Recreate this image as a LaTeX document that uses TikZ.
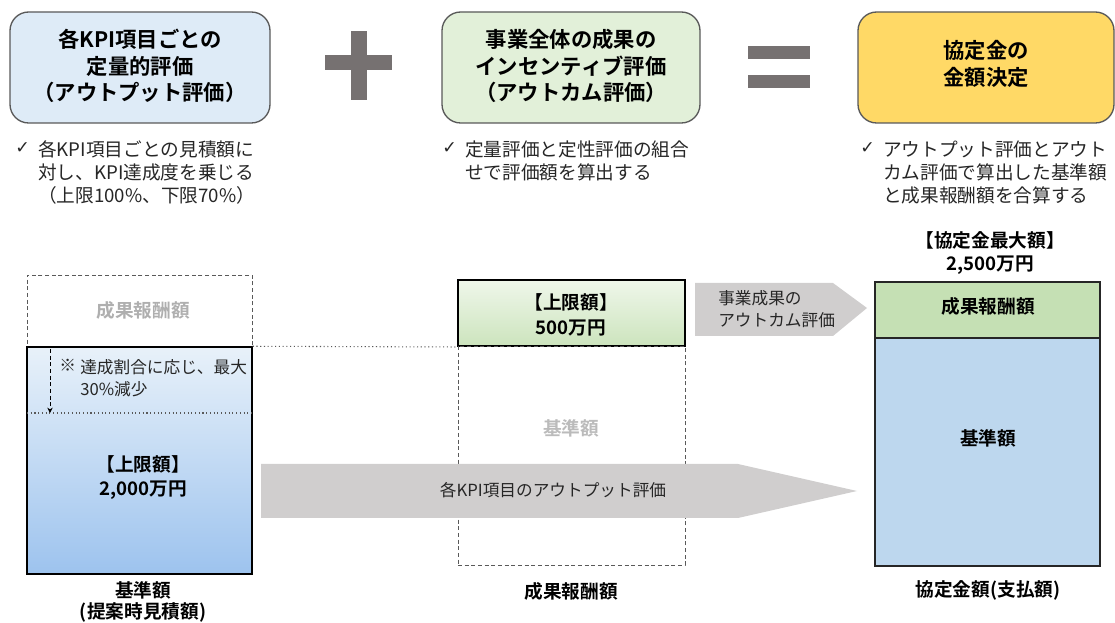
\documentclass[tikz,border=0pt]{standalone}
\usepackage{fontspec}
\setmainfont{Noto Sans CJK JP}[BoldFont={* Bold}]
\newfontfamily\symf{DejaVu Sans}
\usetikzlibrary{fit,arrows.meta}
\definecolor{bluebox}{HTML}{DEEBF7}
\definecolor{greenbox}{HTML}{E2F0D9}
\definecolor{goldbox}{HTML}{FFD966}
\definecolor{opgray}{HTML}{767171}
\definecolor{arrgray}{HTML}{D0CECE}
\definecolor{bordgray}{HTML}{595959}
\definecolor{ghost}{HTML}{AFAFAF}
\definecolor{rgreen}{HTML}{C5E0B4}
\definecolor{rblue}{HTML}{BDD7EE}
\definecolor{gradbot}{HTML}{9DC3EE}
\definecolor{txt}{HTML}{262626}
\tikzset{
  titlebox/.style={draw=bordgray, line width=1pt, rounded corners=14pt, inner sep=0pt},
  titletext/.style={font=\fontsize{16}{19.8}\selectfont\bfseries, align=center, text=black},
  checktext/.style={font=\fontsize{14}{17.25}\selectfont, align=left, anchor=north west, inner sep=0pt, text=txt},
  checkmark/.style={font=\symf\fontsize{13}{15}\selectfont, anchor=north west, inner sep=0pt, text=txt},
  dashbox/.style={draw=bordgray, dash pattern=on 3pt off 2pt, line width=0.6pt, inner sep=0pt},
  boldlbl/.style={font=\fontsize{14}{18}\selectfont\bfseries, align=center, text=black},
  ghostlbl/.style={font=\fontsize{14}{18}\selectfont\bfseries, text=ghost},
  arrowtext/.style={font=\fontsize{12.5}{16.5}\selectfont, text=txt, align=left},
  opshape/.style={fill=opgray, draw=none}
}
\begin{document}
\begin{tikzpicture}[x=0.75pt,y=-0.75pt]
\useasboundingbox (0,0) rectangle (1115,623);
% ---------- top row ----------
\node[titlebox, fill=bluebox, fit={(10,12)(270,123)}] (b1) {};
\node[titletext] (t1) at (140,66) {各KPI項目ごとの\\定量的評価\\（アウトプット評価）};
\node[titlebox, fill=greenbox, fit={(442,12)(700,123)}] (b2) {};
\node[titletext] (t2) at (571,66) {事業全体の成果の\\インセンティブ評価\\（アウトカム評価）};
\node[titlebox, fill=goldbox, fit={(858,12)(1114,123)}] (b3) {};
\node[titletext] (t3) at (986,64) {協定金の\\金額決定};
% plus and equals
\fill[opshape] (325,55) rectangle (392,70);
\fill[opshape] (351,31) rectangle (367,100);
\fill[opshape] (748,46) rectangle (810,59);
\fill[opshape] (748,75) rectangle (810,88);
% check texts
\node[checkmark] (c1) at (15,142) {✓};
\node[checktext] (ct1) at (38,140.5) {各KPI項目ごとの見積額に\\対し、KPI達成度を乗じる\\（上限100\%、下限70\%）};
\node[checkmark] (c2) at (442,142) {✓};
\node[checktext] (ct2) at (465,140.5) {定量評価と定性評価の組合\\せで評価額を算出する};
\node[checkmark] (c3) at (860,142) {✓};
\node[checktext] (ct3) at (883,140.5) {アウトプット評価とアウト\\カム評価で算出した基準額\\と成果報酬額を合算する};
% ---------- left column ----------
\node[dashbox, fit={(27,275)(252,347)}] (ldash) {};
\node[ghostlbl] (lghost) at (143,310) {成果報酬額};
\node[fit={(27,347)(252,574)}, inner sep=0pt, top color=bluebox!70!white, bottom color=gradbot, draw=black, line width=1.1pt] (lbase) {};
\coordinate (arrtop) at (50,349);
\coordinate (arrbot) at (50,413);
\coordinate (cutl) at (27,413);
\coordinate (cutr) at (252,413);
\draw[dotted, line width=0.8pt, bordgray] (cutl) -- (cutr);
\draw[dash pattern=on 3pt off 2pt, line width=0.6pt, -{Stealth[length=4pt,width=4pt]}] (arrtop) -- (arrbot);
\node[font=\fontsize{12.5}{16.5}\selectfont, inner sep=0pt, anchor=north west, text=txt] (kome) at (59,359) {※};
\node[arrowtext, inner sep=0pt, anchor=north west] (note) at (80,359) {達成割合に応じ、最大\\30\%減少};
\node[boldlbl] (lcap) at (143,478) {【上限額】\\2,000万円};
\node[boldlbl, font=\fontsize{14}{16}\selectfont\bfseries] (lbl1) at (143,602) {基準額\\(提案時見積額)};
% ---------- middle column ----------
\node[fit={(458,280)(685,346)}, inner sep=0pt, top color=greenbox!55!white, bottom color=rgreen!75!greenbox, draw=black, line width=1.5pt] (mgreen) {};
\node[boldlbl, font=\fontsize{14}{19}\selectfont\bfseries] (mcap) at (571,315) {【上限額】\\500万円};
\node[dashbox, fit={(458,346)(685,565)}] (mdash) {};
\node[ghostlbl, text=ghost!85!white] (mghost) at (571,428) {基準額};
\node[boldlbl] (lbl2) at (571,591) {成果報酬額};
\draw[dotted, line width=0.8pt, bordgray] (lbase.north east) -- (mgreen.south west);
% ---------- arrows ----------
\fill[arrgray] (261,464) -- (738,464) -- (857,491) -- (738,518) -- (261,518) -- cycle;
\node[arrowtext] (bigtxt) at (553,490) {各KPI項目のアウトプット評価};
\fill[arrgray] (695,283) -- (833,283) -- (867,308) -- (833,336) -- (695,336) -- cycle;
\node[arrowtext, anchor=west, inner sep=0pt] (smalltxt) at (718,309) {事業成果の\\アウトカム評価};
% ---------- right column ----------
\node[boldlbl, font=\fontsize{14}{17}\selectfont\bfseries] (rcap) at (990,253) {【協定金最大額】\\2,500万円};
\node[fit={(875,282)(1100,338)}, inner sep=0pt, fill=rgreen, draw=txt, line width=1pt] (rgreenbox) {};
\node[boldlbl] (rg) at (988,306) {成果報酬額};
\node[fit={(875,338)(1100,566)}, inner sep=0pt, fill=rblue, draw=txt, line width=1pt] (rbluebox) {};
\node[boldlbl] (rb) at (988,438) {基準額};
\node[boldlbl] (lbl3) at (988,590) {協定金額(支払額)};
\end{tikzpicture}
\end{document}
